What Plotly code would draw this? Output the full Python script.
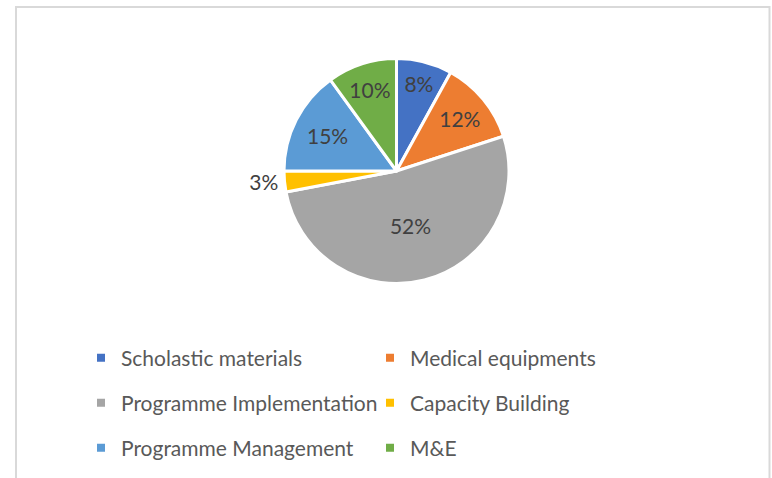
import plotly.graph_objects as go

categories = ["Scholastic materials", "Medical equipments", "Programme Implementation",
              "Capacity Building", "Programme Management", "M&E"]
values = [8, 12, 52, 3, 15, 10]
colors = ["#4472C4", "#ED7D31", "#A5A5A5", "#FFC000", "#5B9BD5", "#70AD47"]
text_pos = ["inside", "inside", "inside", "outside", "inside", "inside"]

W, H = 772, 478
FONT = "Lato"

fig = go.Figure()
fig.add_trace(go.Pie(
    labels=categories, values=values, sort=False, direction="clockwise", rotation=0,
    marker=dict(colors=colors, line=dict(color="white", width=3)),
    texttemplate="%{percent:.0%}", textposition=text_pos,
    insidetextorientation="horizontal",
    textfont=dict(family=FONT, size=21, color="#404040"),
    domain=dict(x=[284 / W, 509 / W], y=[1 - 283.5 / H, 1 - 58.5 / H]),
    showlegend=False, hoverinfo="label+percent",
))

legend_ids = ["legend", "legend", "legend2", "legend2", "legend3", "legend3"]
for cat, col, lg in zip(categories, colors, legend_ids):
    fig.add_trace(go.Scatter(
        x=[None], y=[None], mode="markers", name=cat, legend=lg,
        marker=dict(symbol="square", size=8, color=col),
    ))

row_y = [358, 403, 448]
common = dict(orientation="h", xanchor="left", yanchor="middle", x=81 / W,
              entrywidth=244, entrywidthmode="pixels", bgcolor="rgba(0,0,0,0)",
              font=dict(family=FONT, size=21, color="#595959"))
fig.update_layout(
    width=W, height=H, margin=dict(l=0, r=0, t=0, b=0),
    paper_bgcolor="white", plot_bgcolor="white",
    xaxis=dict(visible=False), yaxis=dict(visible=False),
    legend=dict(y=1 - row_y[0] / H, **common),
    legend2=dict(y=1 - row_y[1] / H, **common),
    legend3=dict(y=1 - row_y[2] / H, **common),
    shapes=[dict(type="rect", xref="paper", yref="paper",
                 x0=16 / W, x1=769.5 / W, y0=-0.05, y1=1 - 7 / H,
                 line=dict(color="#D9D9D9", width=2), fillcolor="rgba(0,0,0,0)", layer="below")],
)
fig.write_html("out.html", config={"displayModeBar": False},
               post_script="document.body.style.margin='0';document.body.style.overflow='hidden';")
